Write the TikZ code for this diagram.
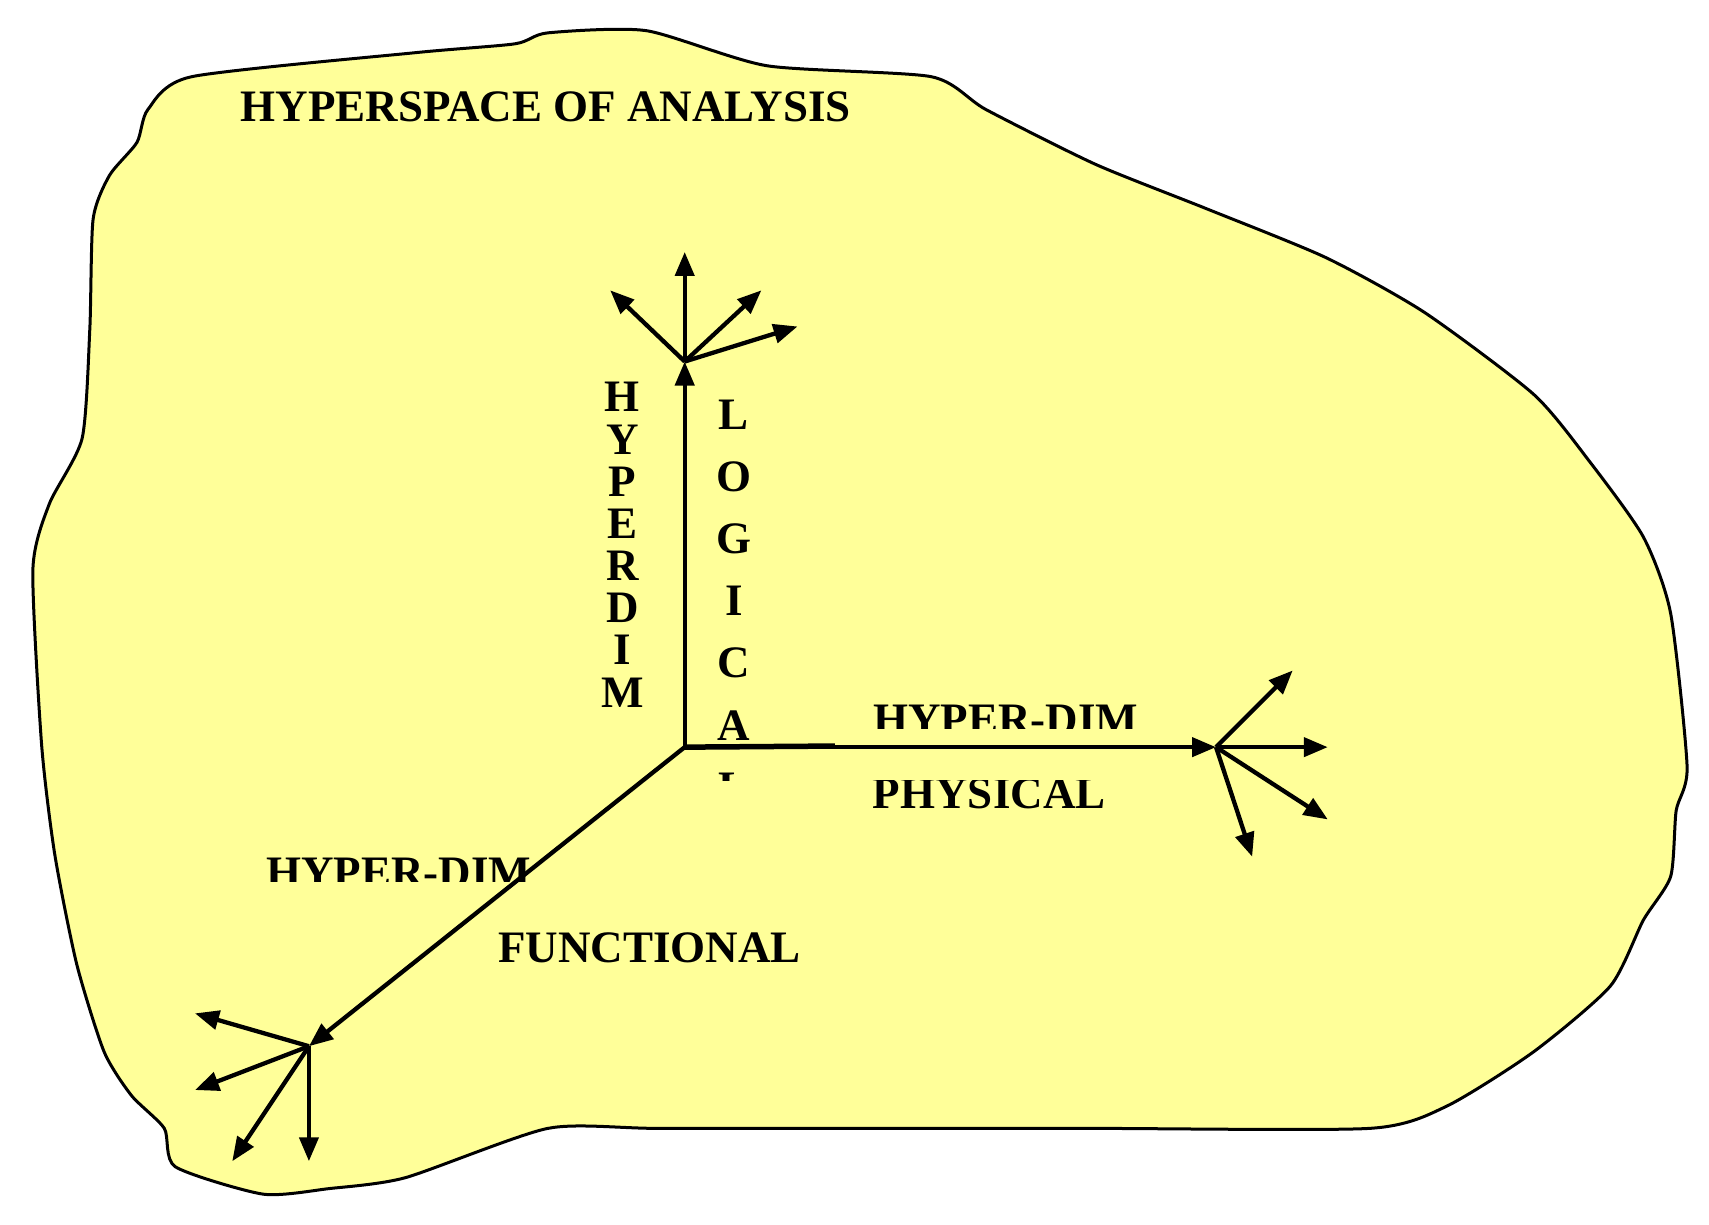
\documentclass[tikz,border=0pt]{standalone}
\usepackage{fontspec}
\setmainfont{Liberation Serif}
\usetikzlibrary{arrows.meta}
\begin{document}
\begin{tikzpicture}[x=1.0955pt,y=-1.0955pt,
  ax/.style={line width=4.3pt,-{Triangle[length=24pt,width=19pt]}},
  lbl/.style={font=\bfseries\fontsize{45}{45}\selectfont,inner sep=0pt,anchor=base},
  vl/.style={font=\bfseries\fontsize{45}{45}\selectfont,inner sep=0pt,anchor=base}]
\useasboundingbox (0,0) rectangle (1560,1118);
\fill[white] (0,0) rectangle (1560,1118);
\draw[fill={rgb,255:red,255;green,255;blue,153},line width=3pt]
 plot[smooth cycle,tension=0.4] coordinates{(240,1090)(160,1065)(150,1030)(120,1000)(95,960)(70,880)(50,780)(38,680)(30,520)(45,460)(75,400)(82,300)(85,200)(100,160)(125,130)(135,100)(175,70)(380,48)(470,40)(500,30)(590,28)(700,60)(850,70)(900,100)(1000,150)(1100,190)(1210,235)(1300,285)(1400,360)(1450,420)(1500,490)(1525,560)(1540,700)(1530,740)(1525,800)(1500,840)(1470,900)(1400,960)(1320,1010)(1250,1030)(1000,1030)(800,1030)(600,1030)(500,1030)(370,1075)(300,1085)};
\coordinate (o) at (625,682);
\coordinate (t) at (625,330);
\coordinate (r) at (1110,682);
\coordinate (l) at (282,955);
\draw[ax] (o) -- (t);
\draw[ax] (o) -- (r);
\draw[ax] (o) -- (l);
\draw[line width=5.5pt] (o) -- (762,681);
\foreach \p in {(625,230),(557,265),(695,265),(728,298)} \draw[ax] (t) -- \p;
\foreach \p in {(1180,612),(1212,682),(1212,748),(1143,782)} \draw[ax] (r) -- \p;
\foreach \p in {(178,925),(178,995),(212,1060),(282,1060)} \draw[ax] (l) -- \p;
\node[lbl] (title) at (498,111) {HYPERSPACE OF ANALYSIS};
\foreach \c [count=\i from 0] in {H,Y,P,E,R,D,I,M}
  \node[vl] (h\i) at (568,{376+\i*38.5}) {\c};
\begin{scope}
\clip (600,340) rectangle (720,712);
\foreach \c [count=\i from 0] in {L,O,G,I,C,A,L}
  \node[vl] (g\i) at (670,{392+\i*56.7}) {\c};
\end{scope}
\begin{scope}
\clip (780,620) rectangle (1060,665);
\node[lbl] (hd1) at (918,670) {HYPER-DIM};
\end{scope}
\begin{scope}
\clip (780,712) rectangle (1060,760);
\node[lbl] (ph) at (903,738) {PHYSICAL};
\end{scope}
\begin{scope}
\clip (220,770) rectangle (500,805);
\node[lbl] (hd2) at (364,810) {HYPER-DIM};
\end{scope}
\node[lbl] (fn) at (593,879) {FUNCTIONAL};
\end{tikzpicture}
\end{document}
